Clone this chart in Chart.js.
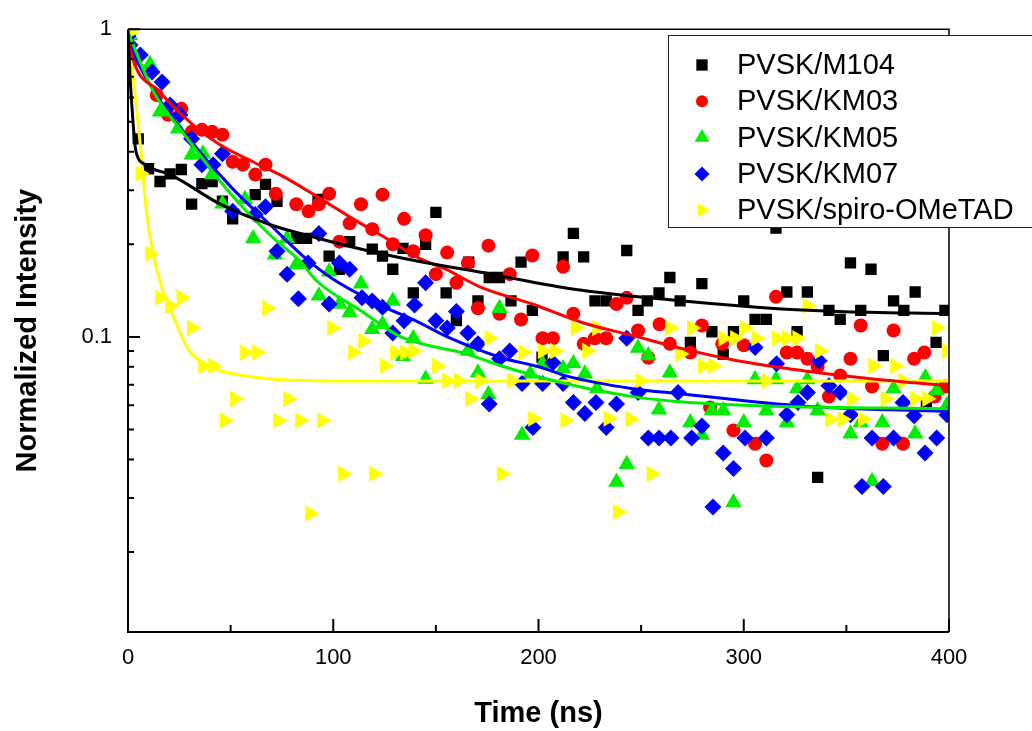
<!DOCTYPE html>
<html>
<head>
<meta charset="utf-8">
<title>Normalized PL decay</title>
<script src="https://cdn.jsdelivr.net/npm/chart.js@4.4.1/dist/chart.umd.min.js"></script>
<style>
    html, body { margin: 0; padding: 0; background: #fff; }
    #wrap { width: 1032px; height: 731px; }
</style>
</head>
<body>
<div id="wrap"><canvas id="decayChart" width="1032" height="731"></canvas></div>
<script>
// --- Measured points (time in ns, normalized intensity) ---
const m104Time = [0, 5, 10, 15.6, 20.5, 26, 31, 36, 41, 46, 51, 62, 67, 72.6, 82, 87, 92.6, 98, 103, 108, 119, 124, 129, 134, 139, 145, 150, 155, 160, 166, 170.5, 176, 181, 186.6, 191.5, 197, 201.7, 212, 217, 222, 227.5, 233, 243, 248.5, 253, 258.7, 264, 269, 274, 279.6, 284.5, 290, 295, 300, 305.5, 311, 315.7, 321, 326, 331, 336, 341.5, 347, 352, 357, 362, 368, 373, 378, 383.5, 389, 393.7, 398];
const m104Int = [1.0, 0.44, 0.352, 0.32, 0.339, 0.35, 0.27, 0.315, 0.32, 0.276, 0.242, 0.29, 0.313, 0.276, 0.209, 0.209, 0.28, 0.183, 0.166, 0.204, 0.193, 0.183, 0.166, 0.194, 0.139, 0.2, 0.254, 0.139, 0.113, 0.175, 0.131, 0.156, 0.156, 0.131, 0.175, 0.122, 0.086, 0.182, 0.217, 0.182, 0.131, 0.131, 0.191, 0.122, 0.131, 0.139, 0.156, 0.131, 0.096, 0.149, 0.104, 0.088, 0.104, 0.131, 0.114, 0.114, 0.226, 0.14, 0.104, 0.14, 0.035, 0.122, 0.114, 0.174, 0.122, 0.166, 0.087, 0.131, 0.122, 0.14, 0.061, 0.096, 0.122];

const km03Time = [0, 2.4, 14, 19.5, 26, 31, 36, 41, 46, 51, 56, 62, 67, 72, 82, 88, 93, 98, 103, 108, 113.5, 119, 124, 129, 134.5, 139, 145, 150, 155.5, 160, 165.6, 170.5, 175.6, 181, 186, 191.5, 197, 202, 207, 212, 217, 222, 227.5, 233, 238, 243, 248.5, 253.5, 259, 264, 274, 279.6, 283.6, 289.5, 295, 300, 305.5, 311, 315.7, 321, 326, 331, 336, 341.5, 347, 352, 357, 362.5, 367.5, 373, 377.6, 383, 388, 393, 398];
const km03Int = [0.95, 0.793, 0.611, 0.527, 0.551, 0.464, 0.471, 0.464, 0.454, 0.371, 0.363, 0.337, 0.363, 0.292, 0.27, 0.256, 0.27, 0.292, 0.204, 0.234, 0.27, 0.224, 0.29, 0.2, 0.242, 0.19, 0.214, 0.16, 0.188, 0.15, 0.174, 0.124, 0.198, 0.119, 0.16, 0.114, 0.184, 0.099, 0.099, 0.169, 0.119, 0.095, 0.099, 0.099, 0.128, 0.134, 0.105, 0.0856, 0.11, 0.095, 0.089, 0.109, 0.059, 0.095, 0.0497, 0.094, 0.045, 0.0397, 0.135, 0.089, 0.089, 0.085, 0.08, 0.064, 0.075, 0.085, 0.109, 0.069, 0.045, 0.105, 0.045, 0.085, 0.089, 0.064, 0.069];

const km05Time = [0, 1, 10.7, 15.6, 24.4, 31, 36.5, 41, 46, 57, 61, 71.6, 77.5, 82, 93, 98, 103, 108, 113.5, 119, 124, 129, 134, 139, 145, 165.6, 170.5, 175.6, 181, 192, 196, 202, 212, 217, 222.6, 228.5, 238, 243, 248.5, 253.5, 258.7, 264, 274, 279.6, 284.5, 290, 295, 300, 305.5, 311, 315.7, 321, 326, 331, 336, 352, 357, 362.5, 367.5, 373, 383.5, 388.5, 394, 399];
const km05Int = [1.0, 0.956, 0.77, 0.539, 0.475, 0.391, 0.394, 0.337, 0.271, 0.28, 0.209, 0.185, 0.209, 0.172, 0.136, 0.163, 0.128, 0.12, 0.149, 0.106, 0.11, 0.131, 0.0866, 0.099, 0.073, 0.09, 0.0765, 0.065, 0.124, 0.048, 0.076, 0.082, 0.079, 0.082, 0.076, 0.068, 0.0338, 0.0386, 0.092, 0.087, 0.058, 0.0765, 0.0527, 0.048, 0.0577, 0.0577, 0.029, 0.0527, 0.0727, 0.0577, 0.0727, 0.0527, 0.068, 0.0727, 0.0577, 0.0485, 0.0527, 0.034, 0.0527, 0.068, 0.0485, 0.0738, 0.067, 0.06];

const km07Time = [0, 1, 6, 11.7, 16.6, 20.5, 25.3, 31, 36, 41.4, 46, 51, 62, 67, 72.6, 77.5, 83, 87.7, 93, 98, 103, 108, 114, 119, 124, 129, 134.5, 139.6, 145, 150, 155.5, 160, 165.6, 170.5, 176, 181, 186, 192, 197.3, 202, 207, 212, 217, 222.6, 228, 233, 238, 243, 248.5, 253.5, 258.7, 264.5, 268, 274.6, 279.6, 285, 290, 295, 300.6, 305.5, 311, 316, 321, 326.4, 331, 336.7, 341.5, 347, 352, 357.6, 362.5, 368, 373, 377.6, 383, 388.3, 394, 399];
const km07Int = [0.95, 0.888, 0.824, 0.726, 0.674, 0.567, 0.527, 0.441, 0.363, 0.363, 0.394, 0.256, 0.25, 0.265, 0.19, 0.16, 0.133, 0.174, 0.217, 0.128, 0.174, 0.166, 0.134, 0.131, 0.125, 0.103, 0.113, 0.127, 0.15, 0.113, 0.107, 0.121, 0.103, 0.095, 0.0606, 0.085, 0.09, 0.0706, 0.0508, 0.0706, 0.0825, 0.0706, 0.0612, 0.0564, 0.0612, 0.0508, 0.0606, 0.099, 0.066, 0.047, 0.047, 0.047, 0.066, 0.047, 0.0514, 0.028, 0.042, 0.0374, 0.047, 0.0925, 0.047, 0.0818, 0.0559, 0.0612, 0.066, 0.0837, 0.0694, 0.066, 0.0559, 0.0327, 0.047, 0.0327, 0.047, 0.0612, 0.0555, 0.042, 0.047, 0.0559];

const spiroTime = [1, 6, 10.7, 15.6, 20.5, 26, 31, 36.5, 41.4, 47, 52, 57, 62.8, 67.7, 73, 78, 83.8, 88.7, 94.5, 99.4, 104.7, 109.6, 114.5, 119.8, 125, 130, 135, 139, 150.5, 155.4, 161, 166.6, 171.5, 176, 182, 187, 192.5, 197.3, 202, 208, 213, 218, 223.6, 228.5, 234, 238.7, 244.6, 249.5, 255, 264, 269, 274.7, 280, 285, 290, 295.7, 300.6, 306, 311, 316, 321, 326, 331, 337, 342, 348, 352.6, 358, 363, 369, 373.7, 377.6, 383.4, 389.3, 394, 399];
const spiroInt = [0.978, 0.339, 0.186, 0.134, 0.126, 0.134, 0.107, 0.0805, 0.0805, 0.0535, 0.0629, 0.089, 0.089, 0.124, 0.0535, 0.0629, 0.0535, 0.0267, 0.0535, 0.107, 0.0359, 0.089, 0.097, 0.0359, 0.0805, 0.089, 0.089, 0.09, 0.0805, 0.0721, 0.0721, 0.0629, 0.0721, 0.099, 0.0359, 0.0721, 0.089, 0.0543, 0.09, 0.09, 0.0535, 0.107, 0.09, 0.107, 0.0543, 0.027, 0.054, 0.0721, 0.0359, 0.107, 0.088, 0.107, 0.0805, 0.0805, 0.099, 0.099, 0.107, 0.099, 0.072, 0.099, 0.099, 0.099, 0.126, 0.09, 0.054, 0.054, 0.063, 0.054, 0.0805, 0.063, 0.0805, 0.072, 0.063, 0.063, 0.107, 0.09];

// --- Fit curves ---
const m104FitTime = [0, 1, 2, 3.4, 5, 7.5, 12, 20.5, 45, 69, 93, 118, 142, 177, 214, 254, 313, 346, 400];
const m104FitInt = [1.0, 0.7, 0.55, 0.42, 0.38, 0.366, 0.352, 0.337, 0.27, 0.232, 0.209, 0.19, 0.176, 0.16, 0.144, 0.134, 0.124, 0.121, 0.119];

const km03FitTime = [0, 1, 15.6, 31.7, 44.8, 60.9, 77.5, 93.5, 109.6, 126, 142, 154, 173, 197, 222, 246, 269, 297, 329, 362, 400];
const km03FitInt = [0.95, 0.86, 0.625, 0.489, 0.421, 0.371, 0.327, 0.282, 0.242, 0.209, 0.18, 0.167, 0.144, 0.128, 0.111, 0.101, 0.092, 0.0837, 0.0777, 0.0732, 0.0694];

const km05FitTime = [0, 12, 29, 50, 70, 84, 92, 114, 133, 165, 182, 213, 246, 269, 313, 400];
const km05FitInt = [0.978, 0.635, 0.441, 0.292, 0.212, 0.176, 0.152, 0.121, 0.1, 0.088, 0.0805, 0.0706, 0.064, 0.0616, 0.0596, 0.0585];

const km07FitTime = [0, 1.5, 12, 29, 50, 70, 87, 100, 125, 140, 157, 182, 201, 213, 246, 269, 329, 400];
const km07FitInt = [0.942, 0.874, 0.639, 0.447, 0.308, 0.229, 0.179, 0.154, 0.125, 0.113, 0.0991, 0.0856, 0.0797, 0.0749, 0.0679, 0.0654, 0.0596, 0.0573];

const spiroFitTime = [0, 1, 3, 6, 9, 12, 17, 20.5, 29, 37, 45, 69, 100, 200, 400];
const spiroFitInt = [1.0, 0.888, 0.65, 0.421, 0.255, 0.19, 0.141, 0.124, 0.092, 0.0818, 0.0777, 0.0731, 0.072, 0.072, 0.072];

// --- Axis tick values ---
const xMajorTicks = [0, 100, 200, 300, 400];
const xMinorTicks = [50, 150, 250, 350];
const yMajorTicks = [0.1, 1];
const yMinorTicks = [0.02, 0.03, 0.04, 0.05, 0.06, 0.07, 0.08, 0.09, 0.2, 0.3, 0.4, 0.5, 0.6, 0.7, 0.8, 0.9];

const FONT = '"Liberation Sans", Arial, sans-serif';

function toPoints(xs, ys) {
    return xs.map((x, i) => ({ x: x, y: ys[i] }));
}

function markerSet(label, xs, ys, color, style, radius, rotation, order, legendRadius) {
    return {
        type: 'scatter',
        label: label,
        data: toPoints(xs, ys),
        backgroundColor: color,
        borderColor: color,
        pointStyle: style,
        pointRadius: radius,
        pointRotation: rotation,
        pointBorderWidth: 0,
        showLine: false,
        order: order,
        legendRadius: legendRadius
    };
}

function fitLine(xs, ys, color) {
    return {
        type: 'line',
        label: '',
        data: toPoints(xs, ys),
        borderColor: color,
        borderWidth: 3,
        pointRadius: 0,
        fill: false,
        cubicInterpolationMode: 'monotone',
        order: 0
    };
}

// Inward ticks, plot frame and the boxed legend
const framePlugin = {
    id: 'frame',
    afterDatasetsDraw(chart) {
        const { ctx, chartArea: a, scales } = chart;
        const xs = scales.x, ys = scales.y;
        ctx.save();
        ctx.strokeStyle = '#000';
        ctx.lineWidth = 1.5;
        ctx.beginPath();
        ctx.moveTo(a.left, a.top);
        ctx.lineTo(a.right, a.top);
        ctx.lineTo(a.right, a.bottom);
        ctx.stroke();

        ctx.lineWidth = 2;
        ctx.beginPath();
        ctx.moveTo(a.left, a.top);
        ctx.lineTo(a.left, a.bottom);
        ctx.lineTo(a.right, a.bottom);
        xMajorTicks.forEach(v => {
            const px = xs.getPixelForValue(v);
            ctx.moveTo(px, a.bottom);
            ctx.lineTo(px, a.bottom - 13);
        });
        xMinorTicks.forEach(v => {
            const px = xs.getPixelForValue(v);
            ctx.moveTo(px, a.bottom);
            ctx.lineTo(px, a.bottom - 7);
        });
        yMajorTicks.forEach(v => {
            const py = ys.getPixelForValue(v);
            ctx.moveTo(a.left, py);
            ctx.lineTo(a.left + 12, py);
        });
        yMinorTicks.forEach(v => {
            const py = ys.getPixelForValue(v);
            ctx.moveTo(a.left, py);
            ctx.lineTo(a.left + 6, py);
        });
        ctx.stroke();
        ctx.restore();
    },
    afterDraw(chart) {
        const ctx = chart.ctx;
        const sets = chart.data.datasets.filter(d => d.type === 'scatter');
        ctx.save();
        ctx.fillStyle = '#fff';
        ctx.fillRect(668, 35, 400, 192);
        ctx.strokeStyle = '#222';
        ctx.lineWidth = 1;
        ctx.strokeRect(668.5, 35.5, 400, 192);
        sets.forEach((d, i) => {
            const cy = 65 + i * 36.3;
            ctx.fillStyle = d.backgroundColor;
            Chart.helpers.drawPoint(ctx, {
                pointStyle: d.pointStyle,
                rotation: d.pointRotation,
                radius: d.legendRadius,
                borderWidth: 0
            }, 702, cy);
            ctx.fillStyle = '#000';
            ctx.font = '29px ' + FONT;
            ctx.textBaseline = 'middle';
            ctx.textAlign = 'left';
            ctx.fillText(d.label, 737, cy + 1);
        });
        ctx.restore();
    }
};

new Chart(document.getElementById('decayChart'), {
    data: {
        datasets: [
            fitLine(m104FitTime, m104FitInt, '#000000'),
            fitLine(km03FitTime, km03FitInt, '#ff0000'),
            fitLine(km05FitTime, km05FitInt, '#00ee00'),
            fitLine(km07FitTime, km07FitInt, '#0000ff'),
            fitLine(spiroFitTime, spiroFitInt, '#ffff00'),
            markerSet('PVSK/M104', m104Time, m104Int, '#000000', 'rect', 8, 0, 5, 8),
            markerSet('PVSK/KM03', km03Time, km03Int, '#ff0000', 'circle', 7, 0, 4, 6),
            markerSet('PVSK/KM05', km05Time, km05Int, '#00ee00', 'triangle', 9.5, 0, 3, 8.5),
            markerSet('PVSK/KM07', km07Time, km07Int, '#0000ff', 'rectRot', 8.5, 0, 2, 7.5),
            markerSet('PVSK/spiro-OMeTAD', spiroTime, spiroInt, '#ffff00', 'triangle', 9.5, 90, 1, 8)
        ]
    },
    options: {
        responsive: false,
        animation: false,
        layout: { padding: { top: 27, right: 83, bottom: 0, left: 0 } },
        plugins: {
            legend: { display: false },
            tooltip: { enabled: false }
        },
        scales: {
            x: {
                type: 'linear',
                min: 0,
                max: 400,
                grid: { display: false, drawTicks: false },
                border: { display: false },
                ticks: {
                    stepSize: 100,
                    padding: 13,
                    color: '#000',
                    maxRotation: 0,
                    font: { family: FONT, size: 22 }
                },
                title: {
                    display: true,
                    text: 'Time (ns)',
                    color: '#000',
                    padding: { top: 0, bottom: 0 },
                    font: { family: FONT, size: 29, weight: 'bold' }
                },
                afterFit(scale) { scale.height = 99; }
            },
            y: {
                type: 'logarithmic',
                min: 0.011,
                max: 1,
                grid: { display: false, drawTicks: false },
                border: { display: false },
                ticks: {
                    autoSkip: false,
                    padding: 16,
                    color: '#000',
                    font: { family: FONT, size: 22 },
                    callback: function(value) {
                        if (Math.abs(value - 1) < 1e-9) return '1';
                        if (Math.abs(value - 0.1) < 1e-9) return '0.1';
                        return '';
                    }
                },
                title: {
                    display: true,
                    text: 'Normalized Intensity',
                    color: '#000',
                    padding: { top: 11, bottom: 0 },
                    font: { family: FONT, size: 29, weight: 'bold' }
                },
                afterFit(scale) { scale.width = 128; }
            }
        }
    },
    plugins: [framePlugin]
});
</script>
</body>
</html>
